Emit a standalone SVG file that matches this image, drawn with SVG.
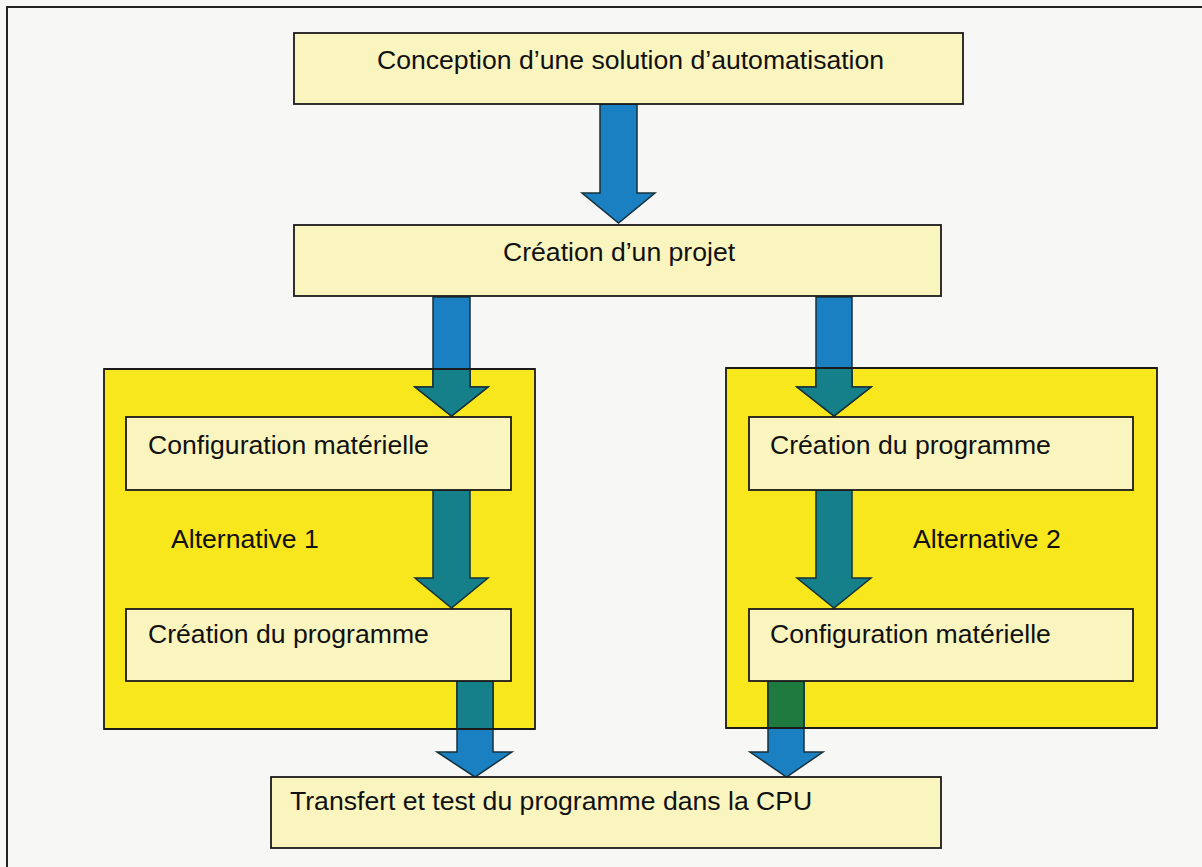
<svg xmlns="http://www.w3.org/2000/svg" width="1202" height="867" viewBox="0 0 1202 867">
  <style>
    .frame { fill: none; stroke: #222; stroke-width: 2; }
    .container { fill: #F8E71C; stroke: #1a1a1a; stroke-width: 1.8; }
    .box { fill: #FAF5BF; stroke: #1a1a1a; stroke-width: 1.8; }
    .label { font-family: "Liberation Sans", Arial, sans-serif; font-size: 26.6px; fill: #111; }
    .arrow { stroke: #15303a; stroke-width: 1.5; stroke-linejoin: miter; }
    .blue { fill: #1A80C2; }
    .teal { fill: #16808A; }
    .green { fill: #1E7A3F; }
  </style>
  <defs>
    <clipPath id="clipAlt1"><rect x="104" y="369" width="431" height="360"/></clipPath>
    <clipPath id="clipAlt2"><rect x="726" y="368" width="431" height="360"/></clipPath>
  </defs>
  <rect x="0" y="0" width="1202" height="867" fill="#F7F7F6"/>
  <path class="frame" d="M7 867 V7 H1202"/>

  <g id="alt1-container">
    <rect class="container" x="104" y="369" width="431" height="360"/>
    <text class="label" x="171" y="548">Alternative 1</text>
  </g>
  <g id="alt2-container">
    <rect class="container" x="726" y="368" width="431" height="360"/>
    <text class="label" x="913" y="548">Alternative 2</text>
  </g>

  <g id="connectors">
    <polygon class="arrow blue" points="600,104 637,104 637,193 655,193 618.5,223 582,193 600,193"/>
    <polygon class="arrow blue" points="433,297 470,297 470,387 488,387 451.5,416 415,387 433,387"/>
    <polygon class="teal" clip-path="url(#clipAlt1)" points="433,297 470,297 470,387 488,387 451.5,416 415,387 433,387"/>
    <polygon class="arrow" fill="none" clip-path="url(#clipAlt1)" points="433,297 470,297 470,387 488,387 451.5,416 415,387 433,387"/>
    <polygon class="arrow teal" points="433,490 470,490 470,578 488,578 451.5,608 415,578 433,578"/>
    <polygon class="arrow blue" points="457,681 493,681 493,752 512,752 475,777 437,752 457,752"/>
    <polygon class="teal" clip-path="url(#clipAlt1)" points="457,681 493,681 493,752 512,752 475,777 437,752 457,752"/>
    <polygon class="arrow" fill="none" clip-path="url(#clipAlt1)" points="457,681 493,681 493,752 512,752 475,777 437,752 457,752"/>
    <polygon class="arrow blue" points="816,297 852,297 852,387 871,387 834,416 797,387 816,387"/>
    <polygon class="teal" clip-path="url(#clipAlt2)" points="816,297 852,297 852,387 871,387 834,416 797,387 816,387"/>
    <polygon class="arrow" fill="none" clip-path="url(#clipAlt2)" points="816,297 852,297 852,387 871,387 834,416 797,387 816,387"/>
    <polygon class="arrow teal" points="816,490 852,490 852,578 871,578 834,608 797,578 816,578"/>
    <polygon class="arrow blue" points="768,681 804,681 804,752 823,752 786.5,777 750,752 768,752"/>
    <polygon class="green" clip-path="url(#clipAlt2)" points="768,681 804,681 804,752 823,752 786.5,777 750,752 768,752"/>
    <polygon class="arrow" fill="none" clip-path="url(#clipAlt2)" points="768,681 804,681 804,752 823,752 786.5,777 750,752 768,752"/>
    <line x1="726" y1="728" x2="1157" y2="728" stroke="#1a1a1a" stroke-width="1.8"/>
    <line x1="104" y1="729" x2="535" y2="729" stroke="#1a1a1a" stroke-width="1.8"/>
    <line x1="104" y1="369" x2="535" y2="369" stroke="#1a1a1a" stroke-width="1.8"/>
    <line x1="726" y1="368" x2="1157" y2="368" stroke="#1a1a1a" stroke-width="1.8"/>
  </g>

  <g id="conception">
    <rect class="box" x="294" y="33" width="669" height="71"/>
    <text class="label" x="377" y="69">Conception d’une solution d’automatisation</text>
  </g>
  <g id="projet">
    <rect class="box" x="294" y="225" width="647" height="71"/>
    <text class="label" x="503" y="261">Création d’un projet</text>
  </g>
  <g id="alt1-config">
    <rect class="box" x="126" y="417" width="385" height="73"/>
    <text class="label" x="148" y="454">Configuration matérielle</text>
  </g>
  <g id="alt1-creation">
    <rect class="box" x="126" y="609" width="385" height="72"/>
    <text class="label" x="148" y="643">Création du programme</text>
  </g>
  <g id="alt2-creation">
    <rect class="box" x="749" y="417" width="384" height="73"/>
    <text class="label" x="770" y="454">Création du programme</text>
  </g>
  <g id="alt2-config">
    <rect class="box" x="749" y="609" width="384" height="72"/>
    <text class="label" x="770" y="643">Configuration matérielle</text>
  </g>
  <g id="transfert">
    <rect class="box" x="271" y="777" width="670" height="71"/>
    <text class="label" x="290" y="810">Transfert et test du programme dans la CPU</text>
  </g>
</svg>
